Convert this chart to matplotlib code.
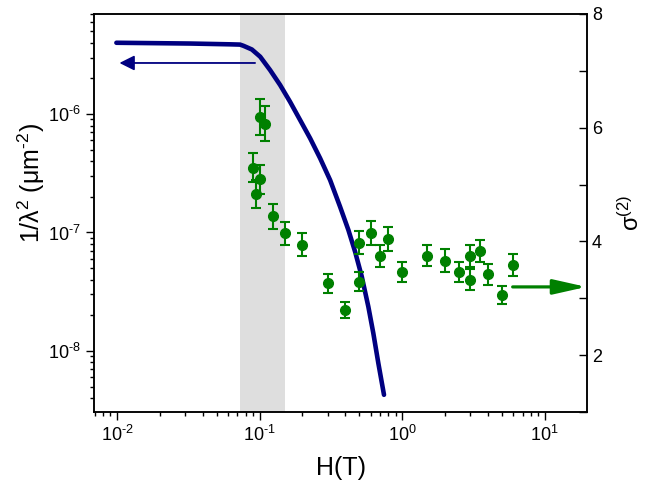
import matplotlib
matplotlib.use("Agg")
import matplotlib.pyplot as plt
from matplotlib.ticker import LogLocator, MultipleLocator, FuncFormatter
import numpy as np

plt.rcParams['font.family'] = ['Liberation Sans', 'DejaVu Sans']
plt.rcParams['mathtext.default'] = 'regular'

# superfluid density curve (left axis)
curve_h = [0.0099, 0.0327, 0.0622, 0.0729, 0.0771, 0.0883, 0.101, 0.1186,
           0.1393, 0.1636, 0.1925, 0.2263, 0.266, 0.3125, 0.367, 0.4197,
           0.4677, 0.5212, 0.5795, 0.628, 0.681, 0.746]
curve_rho = [4.0e-6, 3.94e-6, 3.88e-6, 3.86e-6, 3.77e-6, 3.51e-6, 3.05e-6,
             2.35e-6, 1.76e-6, 1.27e-6, 8.9e-7, 6.24e-7, 4.23e-7, 2.77e-7,
             1.65e-7, 1.05e-7, 6.89e-8, 4.24e-8, 2.36e-8, 1.41e-8, 7.87e-9,
             4.26e-9]

# sigma^(2) points (right axis)
sig_h = [0.10, 0.11, 0.09, 0.10, 0.095, 0.125, 0.15, 0.20, 0.30, 0.40, 0.50,
         0.50, 0.60, 0.70, 0.80, 1.0, 1.5, 2.0, 2.5, 3.0, 3.0, 3.5, 4.0, 5.0, 6.0]
sig_val = [6.19, 6.07, 5.30, 5.09, 4.83, 4.44, 4.14, 3.94, 3.26, 2.80, 3.29,
           3.98, 4.15, 3.74, 4.05, 3.46, 3.75, 3.66, 3.46, 3.74, 3.33, 3.83,
           3.42, 3.06, 3.59]
sig_err = [0.31, 0.31, 0.26, 0.25, 0.25, 0.22, 0.21, 0.20, 0.17, 0.14, 0.17,
           0.20, 0.21, 0.19, 0.21, 0.18, 0.19, 0.20, 0.18, 0.19, 0.18, 0.20,
           0.18, 0.16, 0.19]

band = (0.073, 0.15)
navy = '#000080'
green = '#008000'
HY = '\u2010'  # short hyphen like the original


def pow10(v, pos):
    n = int(round(np.log10(v)))
    s = str(n).replace('-', HY)
    return '10$^{' + s + '}$'


fig = plt.figure(figsize=(6.65, 4.87), dpi=100)
ax = fig.add_axes([0.1414, 0.154, 0.7413, 0.8173])
ax2 = ax.twinx()

ax.axvspan(band[0], band[1], color='#dedede', lw=0, zorder=0)
ax.plot(curve_h, curve_rho, color=navy, lw=3.3, solid_capstyle='round',
        solid_joinstyle='round', zorder=2)
ax.annotate('', xy=(0.0104, 2.7e-6), xytext=(0.093, 2.7e-6),
            arrowprops=dict(arrowstyle='-|>,head_length=0.9,head_width=0.45',
                            color=navy, lw=1.3, mutation_scale=10,
                            shrinkA=0, shrinkB=0))

ax.set_xscale('log')
ax.set_yscale('log')
ax.set_xlim(0.0069, 19.8)
ax.set_ylim(3.05e-9, 7e-6)

ax2.errorbar(sig_h, sig_val, yerr=sig_err, fmt='o', color=green, ms=7,
             elinewidth=1.5, capsize=3.8, capthick=1.5)
ax2.annotate('', xy=(19.6, 3.2), xytext=(5.96, 3.2),
             arrowprops=dict(arrowstyle='-|>,head_length=2.0,head_width=0.45',
                             color=green, lw=2.3, mutation_scale=10,
                             shrinkA=0, shrinkB=0))
ax2.set_ylim(1, 8)
ax2.yaxis.set_major_locator(MultipleLocator(2))
ax2.yaxis.set_minor_locator(MultipleLocator(1))

ax.xaxis.set_major_locator(LogLocator(base=10, numticks=10))
ax.xaxis.set_minor_locator(LogLocator(base=10, subs=range(2, 10), numticks=20))
ax.yaxis.set_major_locator(LogLocator(base=10, numticks=10))
ax.yaxis.set_minor_locator(LogLocator(base=10, subs=range(2, 10), numticks=20))
ax.xaxis.set_major_formatter(FuncFormatter(pow10))
ax.yaxis.set_major_formatter(FuncFormatter(pow10))

ax.tick_params(which='both', direction='out', labelsize=13, width=1)
ax.tick_params(which='major', length=6)
ax.tick_params(which='minor', length=3)
ax2.tick_params(which='both', direction='in', labelsize=13, length=6, width=1)
ax.tick_params(axis='x', which='both', top=False)

for a in (ax, ax2):
    for s in a.spines.values():
        s.set_linewidth(1.1)

ax.set_xlabel('H(T)', fontsize=18, labelpad=8)
ax.set_ylabel('1/λ$^2$ (μm$^{' + HY + '2}$)', fontsize=18)
ax.yaxis.set_label_coords(-0.095, 0.575)
ax2.set_ylabel('σ$^{(2)}$', fontsize=17, labelpad=12)

fig.savefig('out.png', dpi=100)
